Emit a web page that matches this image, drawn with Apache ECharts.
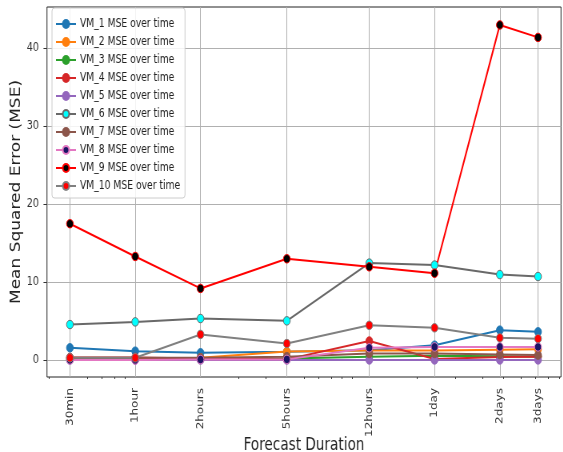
<!DOCTYPE html>
<html>
<head>
<meta charset="utf-8">
<script src="https://cdn.jsdelivr.net/npm/echarts@6/dist/echarts.min.js"></script>
<style>
  html, body { margin: 0; padding: 0; background: #fff; overflow: hidden; }
  #wrap { width: 563px; height: 452px; overflow: hidden; }
  /* the figure is laid out wide and narrowed horizontally, giving the compressed lettering */
  #chart { width: 704px; height: 452px; transform: scaleX(0.8); transform-origin: 0 0; }
</style>
</head>
<body>
<div id="wrap"><div id="chart"></div></div>
<script>
// Forecast horizons (in hours) and their tick labels
const durations = [0.5, 1, 2, 5, 12, 24, 48, 72];
const durationLabels = ['30min', '1hour', '2hours', '5hours', '12hours', '1day', '2days', '3days'];
const yTicks = [0, 10, 20, 30, 40];
const minorTicks = [0.4, 0.6, 0.7, 0.8, 0.9, 3, 4, 6, 7, 8, 9, 10, 20, 30, 40, 50, 60, 70, 80, 90];

// MSE of each VM at every forecast horizon
const vm1 = [1.58, 1.15, 0.94, 1.07, 1.28, 1.92, 3.85, 3.63];
const vm2 = [0.2, 0.2, 0.3, 1.1, 1.25, 1.25, 1.35, 1.4];
const vm3 = [0.1, 0.1, 0.1, 0.2, 0.45, 0.55, 0.5, 0.45];
const vm4 = [0.35, 0.35, 0.2, 0.1, 2.45, 0.15, 0.4, 0.45];
const vm5 = [0.02, 0.02, 0.02, 0.02, 0.03, 0.03, 0.03, 0.03];
const vm6 = [4.57, 4.91, 5.34, 5.04, 12.45, 12.2, 10.98, 10.73];
const vm7 = [0.3, 0.3, 0.3, 0.45, 0.85, 0.85, 0.73, 0.65];
const vm8 = [0.03, 0.03, 0.08, 0.1, 1.58, 1.7, 1.7, 1.7];
const vm9 = [17.5, 13.3, 9.2, 13.0, 11.97, 11.15, 43.0, 41.4];
const vm10 = [0.3, 0.3, 3.3, 2.13, 4.47, 4.15, 2.86, 2.76];

const seriesDefs = [
  { name: 'VM_1 MSE over time', values: vm1, line: '#1f77b4', face: '#1f77b4' },
  { name: 'VM_2 MSE over time', values: vm2, line: '#ff7f0e', face: '#ff7f0e' },
  { name: 'VM_3 MSE over time', values: vm3, line: '#2ca02c', face: '#2ca02c' },
  { name: 'VM_4 MSE over time', values: vm4, line: '#d62728', face: '#d62728' },
  { name: 'VM_5 MSE over time', values: vm5, line: '#9467bd', face: '#9467bd' },
  { name: 'VM_6 MSE over time', values: vm6, line: '#696969', face: '#00ffff' },
  { name: 'VM_7 MSE over time', values: vm7, line: '#8c564b', face: '#8c564b' },
  { name: 'VM_8 MSE over time', values: vm8, line: '#e377c2', face: '#1b1464' },
  { name: 'VM_9 MSE over time', values: vm9, line: '#ff0000', face: '#000000' },
  { name: 'VM_10 MSE over time', values: vm10, line: '#808080', face: '#ff0000' }
];

const FONT = 'DejaVu Sans';
const SX = 0.8;                 // horizontal compression applied to the chart box
const xMin = 0.5 / 1.276;
const xMax = 72 * 1.276;

function durationName(v) {
  for (let i = 0; i < durations.length; i++) {
    if (Math.abs(Math.log(v) - Math.log(durations[i])) < 1e-6) return durationLabels[i];
  }
  return '';
}

const chart = echarts.init(document.getElementById('chart'), null, { renderer: 'canvas' });

const option = {
  animation: false,
  backgroundColor: '#ffffff',
  textStyle: { fontFamily: FONT },
  grid: {
    left: 47 / SX, right: 704 - 561 / SX, top: 7, bottom: 75,
    outerBoundsMode: 'none', containLabel: false,
    show: true, borderColor: '#222', borderWidth: 1, backgroundColor: 'transparent'
  },
  legend: {
    orient: 'vertical',
    left: 52 / SX, top: 8,
    padding: [9, 6, 5, 4],
    itemWidth: 25, itemHeight: 10, itemGap: 4,
    backgroundColor: 'rgba(255,255,255,0.85)',
    borderColor: '#cccccc', borderWidth: 1, borderRadius: 3,
    textStyle: { fontFamily: FONT, fontSize: 11.5, lineHeight: 14, color: '#222' },
    data: seriesDefs.map(s => s.name)
  },
  xAxis: [
    {
      type: 'log', logBase: 10, min: xMin, max: xMax,
      name: 'Forecast Duration', nameLocation: 'middle', nameGap: 60, nameMoveOverlap: false,
      nameTextStyle: { fontFamily: FONT, fontSize: 17, color: '#222' },
      axisLine: { show: false },
      axisTick: { show: true, length: 3.5, customValues: durations, lineStyle: { color: '#333', width: 1 } },
      axisLabel: {
        customValues: durations, rotate: 90, margin: 11,
        fontFamily: FONT, fontSize: 12, color: '#333',
        formatter: v => durationName(v)
      },
      splitLine: { show: true, lineStyle: { color: '#b0b0b0', width: 1 } },
      minorTick: { show: false }, minorSplitLine: { show: false }
    },
    {
      type: 'log', logBase: 10, min: xMin, max: xMax, position: 'bottom',
      axisLine: { show: false },
      axisTick: { show: true, length: 2, customValues: minorTicks, lineStyle: { color: '#333', width: 1 } },
      axisLabel: { show: false },
      splitLine: { show: false }
    }
  ],
  yAxis: {
    type: 'value', min: -2.16, max: 45.3,
    name: 'Mean Squared Error (MSE)', nameLocation: 'middle', nameGap: 30, nameRotate: 90,
    nameMoveOverlap: false,
    nameTextStyle: { fontFamily: FONT, fontSize: 17, color: '#222' },
    axisLine: { show: false },
    axisTick: { show: true, length: 3.5 / SX, customValues: yTicks, lineStyle: { color: '#333', width: 1 } },
    axisLabel: { customValues: yTicks, margin: 10, fontFamily: FONT, fontSize: 12, color: '#333' },
    splitLine: { show: true, lineStyle: { color: '#b0b0b0', width: 1 } }
  },
  series: seriesDefs.map(s => ({
    name: s.name,
    type: 'line',
    xAxisIndex: 0,
    data: durations.map((d, i) => [d, s.values[i]]),
    symbol: 'circle', symbolSize: 8.5, showAllSymbol: true,
    lineStyle: { color: s.line, width: 2 },
    itemStyle: { color: s.face, borderColor: s.line, borderWidth: 1 },
    emphasis: { disabled: true },
    silent: true
  }))
};

chart.setOption(option);
</script>
</body>
</html>
